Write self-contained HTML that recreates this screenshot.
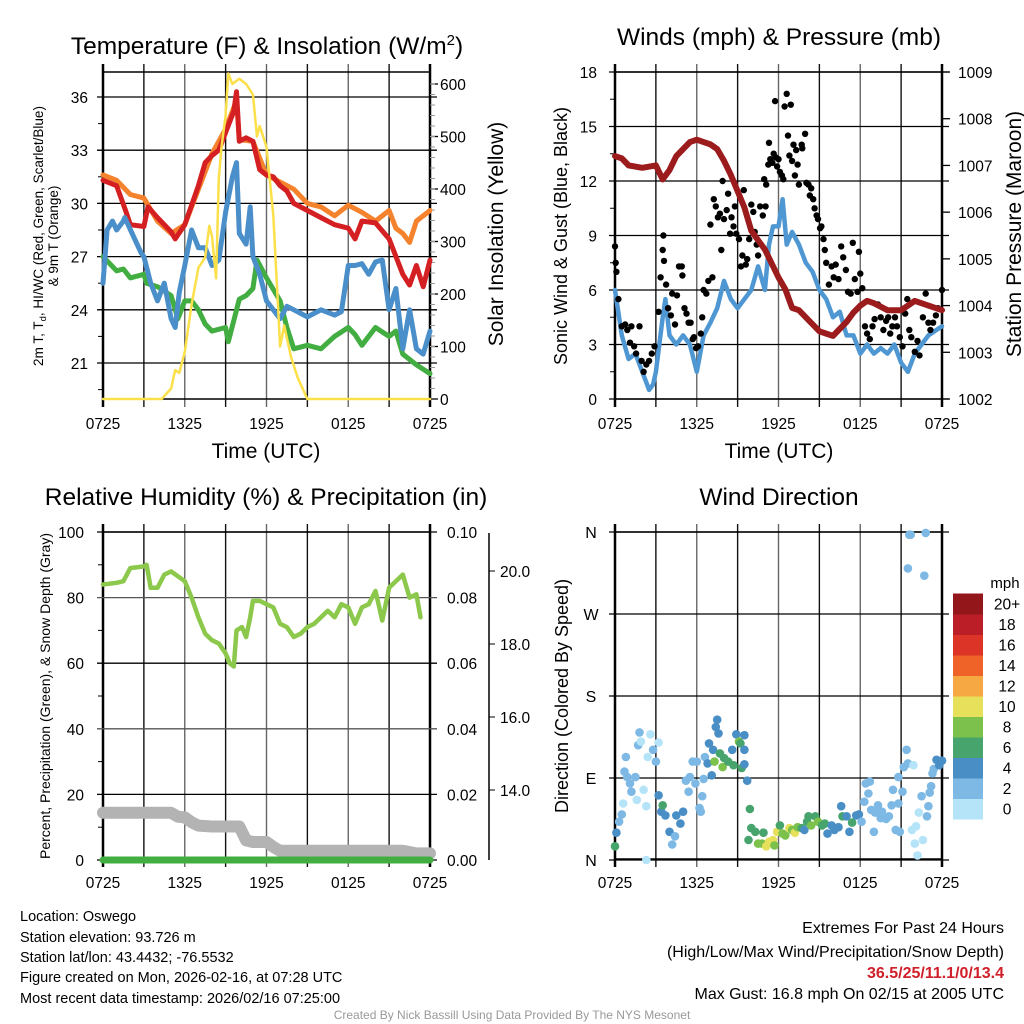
<!DOCTYPE html>
<html><head><meta charset="utf-8"><title>Oswego Meteogram</title>
<style>
html,body{margin:0;padding:0;background:#fff;}
svg{display:block;font-family:"Liberation Sans",sans-serif;}
</style></head>
<body>
<svg id="chart" width="1024" height="1024" viewBox="0 0 1024 1024" xmlns="http://www.w3.org/2000/svg">
<rect x="0" y="0" width="1024" height="1024" fill="#fff"/>
<g id="layer"></g>
<text x="267" y="54" font-size="24.5" text-anchor="middle">Temperature (F) &amp; Insolation (W/m<tspan dy="-9" font-size="15">2</tspan><tspan dy="9">)</tspan></text>
<text x="779" y="45" font-size="24.5" text-anchor="middle">Winds (mph) &amp; Pressure (mb)</text>
<text x="266" y="505" font-size="24.5" text-anchor="middle">Relative Humidity (%) &amp; Precipitation (in)</text>
<text x="779" y="505" font-size="24.5" text-anchor="middle">Wind Direction</text>

<text x="266" y="458" font-size="21" text-anchor="middle">Time (UTC)</text>
<text x="779" y="458" font-size="21" text-anchor="middle">Time (UTC)</text>

<text transform="translate(43,236) rotate(-90)" font-size="13.5" text-anchor="middle">2m T, T<tspan font-size="9.5" dy="3">d</tspan><tspan dy="-3">, HI/WC (Red, Green, Scarlet/Blue)</tspan></text>
<text transform="translate(58,236) rotate(-90)" font-size="13.5" text-anchor="middle">&amp; 9m T (Orange)</text>
<text transform="translate(503,234) rotate(-90)" font-size="21" text-anchor="middle">Solar Insolation (Yellow)</text>
<text transform="translate(567,236) rotate(-90)" font-size="18" text-anchor="middle">Sonic Wind &amp; Gust (Blue, Black)</text>
<text transform="translate(1021,234) rotate(-90)" font-size="21" text-anchor="middle">Station Pressure (Maroon)</text>
<text transform="translate(50,696) rotate(-90)" font-size="14" text-anchor="middle">Percent, Precipitation (Green), &amp; Snow Depth (Gray)</text>
<text transform="translate(568,696) rotate(-90)" font-size="18" text-anchor="middle">Direction (Colored By Speed)</text>

<g font-size="14.5">
<text x="20" y="921">Location: Oswego</text>
<text x="20" y="942">Station elevation: 93.726 m</text>
<text x="20" y="962">Station lat/lon: 43.4432; -76.5532</text>
<text x="20" y="982">Figure created on Mon, 2026-02-16, at 07:28 UTC</text>
<text x="20" y="1003">Most recent data timestamp: 2026/02/16 07:25:00</text>
</g>
<g font-size="16" text-anchor="end">
<text x="1004" y="933">Extremes For Past 24 Hours</text>
<text x="1004" y="957">(High/Low/Max Wind/Precipitation/Snow Depth)</text>
<text x="1004" y="978" font-weight="bold" fill="#d0202a">36.5/25/11.1/0/13.4</text>
<text x="1004" y="999">Max Gust: 16.8 mph On 02/15 at 2005 UTC</text>
</g>
<text x="512" y="1019" font-size="12" fill="#999" text-anchor="middle">Created By Nick Bassill Using Data Provided By The NYS Mesonet</text>
</svg>
<script>
// ---------- data ----------
const xTickLabels = ["0725","1325","1925","0125","0725"];
// Temperature panel (hours since 07:25 UTC)
const tempRedHours = [0,1,1.7,2,3,3.3,4,5,5.3,6,7,7.5,8,8.5,9,9.3,9.6,9.8,10,10.5,11,11.5,12,12.5,13,13.5,14,15,16,17,18,18.5,19,20,21,22,22.5,23,23.5,24];
const tempRedValues = [31.3,31,29.5,28.8,28.7,29.8,29.2,28.4,28.0,28.8,31,32.3,32.7,33,34,34.6,35.2,36.3,33.5,33.7,33.5,31.9,31.6,31.5,31.0,30.7,30.0,29.6,29.2,28.8,28.6,28.0,29,28.9,28.0,26.0,25.4,26.5,25.3,26.8];
const tempOrangeHours = [0,1,2,3,4,5,6,7,8,9,9.8,10,11,12,13,14,15,16,17,18,19,20,21,21.5,22,22.5,23,24];
const tempOrangeValues = [31.6,31.3,30.5,30.3,29.0,28.3,28.8,30.8,32.8,34.2,35.8,33.6,33.5,31.6,31.2,30.8,30.0,29.8,29.3,29.9,29.5,29.0,29.6,28.6,28.3,27.8,29.0,29.6];
const tempBlueHours = [0,0.3,0.7,1,1.5,1.6,2.8,3,3.5,4,4.5,5,5.3,5.6,6,6.5,7,7.5,8,8.5,9,9.5,9.8,10,10.5,10.8,11,11.5,12,12.5,13,13.5,14,15,16,17,17.5,18,18.5,19,19.5,20,20.5,21,21.5,22,22.5,23,23.5,24];
const tempBlueValues = [25.5,28.5,29,28.5,29,29.2,27.2,27,25.5,24.5,25.5,23.5,23.0,25,26.5,28.5,27.5,27.5,26.5,26.8,29.5,31.5,32.3,28.3,27.7,29.8,27,26,24.5,24,23.5,24.2,24.0,23.6,24,23.7,23.9,26.5,26.5,26.6,26.0,26.7,26.8,24,25.2,21.8,24,21.8,21.5,22.8];
const tempGreenHours = [0,1,1.5,2,3,3.2,4,5,5.5,6,6.5,7,7.5,8,9,9.2,10,10.5,11,11.3,12,13,13.5,14,15,16,17,18,18.5,19,20,21,21.5,22,23,24];
const tempGreenValues = [27,26.2,26.3,25.8,26,25.5,25.3,24.8,23.5,24.5,24.5,24,23.2,22.8,23,22.2,24.6,24.8,25.2,26.8,25.8,24.5,23.0,21.8,22.0,21.8,22.5,23.0,22.6,22.0,23.0,22.5,22.8,21.5,20.9,20.4];
const solarHours = [0,4.3,5,5.3,5.6,6,6.5,7,7.5,7.8,8,8.3,8.5,8.7,9,9.2,9.5,10,10.5,11,11.3,11.5,12,12.5,13,13.3,13.8,14.3,15,24];
const solarValues = [0,0,20,55,50,90,180,250,270,330,310,230,420,480,540,620,600,610,600,580,500,520,480,350,100,140,80,40,0,0];
const tempTicks = [21,24,27,30,33,36];
const solarTicks = [0,100,200,300,400,500,600];
// Wind panel
const windHours = [0,0.3,0.5,1,1.5,2,2.5,2.8,3,3.5,3.7,4,4.5,5,5.5,6,6.5,7,7.5,8,8.5,9,9.5,10,10.5,11,11.3,11.6,12,12.3,12.6,13,13.5,14,14.5,15,15.5,16,16.5,17,17.5,18,18.5,19,19.5,20,20.5,21,21.5,22,22.5,23,24];
const windValues = [6,4.5,3.5,2.2,2.5,1.5,0.5,0.8,1.5,4.5,5.5,3.5,3.0,3.5,3.0,1.5,3.5,4.2,5.0,6.5,5.5,5.0,5.5,6.0,7.3,6.0,8.5,9.5,9.5,11,8.5,9.2,8.5,7.5,7.0,6.0,5.5,4.5,4.8,3.5,3.5,2.5,3.0,2.5,2.8,2.5,3.0,2.0,1.5,2.5,3.0,3.5,4.0];
const gustHours = [0,0.05,0.1,0.25,0.5,0.75,0.9,1.1,1.2,1.4,1.55,1.8,1.95,2.1,2.3,2.5,2.7,2.9,3.2,3.35,3.5,3.55,3.6,3.75,3.9,4.1,4.2,4.4,4.55,4.7,4.9,4.95,5.1,5.25,5.4,5.55,5.7,5.8,5.95,6.1,6.3,6.4,6.5,6.7,6.85,7.0,7.15,7.25,7.4,7.55,7.7,7.8,7.9,8.0,8.2,8.3,8.45,8.55,8.7,8.8,8.9,9.1,9.25,9.35,9.45,9.6,9.7,9.85,10.0,10.15,10.25,10.4,10.5,10.65,10.85,10.95,11.05,11.1,11.25,11.3,11.4,11.55,11.65,11.75,11.8,11.9,12.0,12.1,12.25,12.35,12.45,12.6,12.7,12.8,12.9,13.0,13.1,13.2,13.3,13.4,13.5,13.7,13.75,13.95,14.05,14.2,14.3,14.4,14.55,14.65,14.8,14.9,15.05,15.15,15.3,15.4,15.5,15.7,15.9,16.05,16.2,16.4,16.6,16.75,16.95,17.1,17.3,17.45,17.6,17.8,17.9,18.0,18.15,18.35,18.5,18.7,18.9,19.05,19.3,19.5,19.7,19.9,20.05,20.2,20.35,20.55,20.7,20.9,21.1,21.3,21.45,21.6,21.75,22.0,22.2,22.35,22.6,22.8,23.0,23.15,23.35,23.55,23.7,24.0];
const gustValues = [8.4,7.5,7.0,5.5,4.0,4.1,3.8,3.1,4.0,2.9,2.5,4.0,2.1,1.5,1.9,2.1,2.5,2.9,4.8,6.7,8.2,9.0,7.6,6.3,5.0,4.6,5.8,4.1,5.7,7.3,7.3,6.8,5.0,4.7,4.2,4.2,3.3,3.4,2.8,2.9,3.6,4.5,6.0,5.8,6.5,9.6,6.7,11.0,10.6,10.0,10.2,8.2,12.0,9.9,10.4,11.3,9.1,10.0,9.5,10.6,9.1,8.8,7.3,7.9,11.5,7.4,7.7,8.8,10.7,10.3,9.2,8.5,7.9,10.6,10.1,12.1,10.6,11.8,12.9,14.1,13.2,13.0,13.5,16.4,13.3,12.8,13.2,12.5,12.3,12.1,16.1,16.8,14.5,13.4,16.2,13.1,14.0,12.3,13.7,12.9,11.8,14.0,13.8,14.6,11.9,11.8,11.2,11.6,11.0,10.5,10.1,9.9,9.4,9.5,8.8,8.2,7.5,6.3,7.3,6.7,7.4,6.6,8.4,7.8,7.1,5.9,5.8,8.6,6.6,5.9,8.1,6.9,6.1,4.0,3.6,3.3,4.0,4.4,5.2,4.5,3.8,4.3,4.5,3.6,4.0,4.5,4.0,3.4,2.9,4.7,5.5,3.8,3.4,2.6,3.2,2.4,4.5,5.8,4.2,3.8,4.2,4.6,5.0,6.0];
const pressureHours = [0,0.5,1,2,3,3.5,4,4.5,5,5.5,6,6.5,7,7.5,8,8.5,9,9.5,10,10.5,11,11.5,12,12.5,13,13.5,14,14.5,15,15.5,16,16.5,17,17.5,18,18.5,19,20,20.5,21,21.5,22,23,24];
const pressureValues = [1007.2,1007.15,1007.0,1006.95,1007.0,1006.7,1006.9,1007.2,1007.35,1007.5,1007.55,1007.5,1007.45,1007.35,1007.1,1006.8,1006.45,1006.1,1005.6,1005.4,1005.2,1004.9,1004.6,1004.35,1003.95,1003.9,1003.75,1003.6,1003.45,1003.4,1003.35,1003.5,1003.65,1003.85,1004.0,1004.1,1004.05,1003.9,1003.9,1003.9,1004.0,1004.1,1004.0,1003.9];
const windTicks = [0,3,6,9,12,15,18];
const pressureTicks = [1002,1003,1004,1005,1006,1007,1008,1009];
// Humidity panel
const rhHours = [0,1,1.5,2,3,3.2,3.5,4,4.5,5,6,6.5,7,7.5,8,8.5,9,9.3,9.6,9.8,10.2,10.5,10.8,11,11.5,12,12.5,13,13.5,14,14.5,15,15.5,16,16.5,17,17.5,18,18.5,19,19.5,20,20.5,21,22,22.5,23,23.3];
const rhValues = [84,84.5,85,89,89.5,90,83,83,87,88,85,80,74,69,67,66,63,60,59,70,71,68,74,79,79,78,77,72,71,68,69,71,72,74,76,74,78,77,72,77,78,82,73,83,87,80,81,74];
const snowHours = [0,5,5.5,6,6.5,7,8,10,10.5,11,12,12.5,13,22,23,24];
const snowValues = [14.4,14.4,13.2,13,11.5,10.5,10.2,10.2,6,5.5,5.5,4,2.8,2.8,2,2];
const precipHours = [0,24];
const precipValues = [0,0];
const rhTicks = [0,20,40,60,80,100];
const precipTicks = ["0.00","0.02","0.04","0.06","0.08","0.10"];
const snowTicks = [14,16,18,20];
// Wind direction panel
const dirHours = [0,0.1,0.3,0.5,0.6,0.7,0.8,0.9,1.1,1.2,1.5,1.6,1.7,1.8,1.9,2.1,2.3,2.3,2.4,2.6,2.8,3.0,3.2,3.2,3.4,3.5,3.7,4.0,4.2,4.4,4.5,4.8,5.0,5.2,5.4,5.5,5.7,5.9,6.0,6.2,6.3,6.4,6.5,6.6,6.8,6.9,7.1,7.2,7.3,7.4,7.5,7.6,7.7,7.9,8.0,8.3,8.6,8.7,8.9,9.1,9.2,9.3,9.5,9.5,9.5,9.7,9.9,9.8,10.0,10.3,10.5,10.8,10.9,11.1,11.3,11.6,11.7,11.9,12.1,12.3,12.5,12.8,13.0,13.2,13.4,13.7,13.9,14.1,14.2,14.4,14.7,14.9,15.2,15.4,15.6,15.9,16.1,16.4,16.6,16.7,17.0,17.2,17.4,17.7,17.9,18.1,18.3,18.4,18.6,18.7,18.8,19.0,19.1,19.3,19.5,19.6,19.9,20.1,20.3,20.4,20.6,20.8,20.9,21.1,20.8,21.2,21.4,21.5,21.6,21.5,21.7,21.8,21.9,22.0,22.1,22.2,22.3,22.5,22.6,22.7,22.8,22.9,23.0,23.1,23.2,23.3,23.4,23.6,23.8,24];
const dirValues = [15,30,42,50,62,97,113,91,84,75,91,66,126,140,130,77,59,0,113,138,121,108,129,71,53,60,49,31,17,26,49,40,53,87,75,91,108,84,108,57,53,70,89,113,106,128,93,121,108,146,154,139,117,102,112,108,121,104,138,130,128,101,121,137,105,87,56,22,35,31,18,18,30,15,20,22,16,31,38,29,27,35,33,30,36,35,33,42,48,38,48,42,38,40,29,38,33,36,59,48,48,31,41,49,50,42,64,84,73,86,55,31,52,60,46,53,45,48,60,77,33,62,31,75,91,102,121,106,357,320,357,33,104,18,37,5,52,70,22,312,359,48,59,74,81,95,100,110,104,109];
const dirSpeeds = [6,4,2,2,0,2,2,2,2,2,2,0,2,2,0,0,0,0,0,0,2,2,0,4,4,6,4,4,2,2,4,4,4,2,2,2,2,2,2,2,2,2,2,2,4,4,4,4,8,4,4,4,6,8,6,6,4,6,4,8,6,6,4,4,4,4,6,6,6,6,8,8,6,10,10,10,8,10,6,8,8,10,8,10,8,6,4,6,6,8,6,8,6,6,4,4,4,4,4,6,4,4,6,4,4,2,2,2,2,2,2,2,2,2,2,2,2,2,2,2,2,2,2,2,2,2,2,2,2,2,2,0,0,0,0,0,0,2,0,2,2,2,2,2,2,2,2,4,4,4];
const dirTickLabels = ["N","E","S","W","N"];
const speedBinLabels = ["0","2","4","6","8","10","12","14","16","18","20+"];
const speedBinColors = ["#b5e3f8","#7db9e4","#4a8ec6","#48a46d","#7cc14b","#e6e05b","#f6a943","#ef6228","#dc3427","#bb1e26","#92161a"];

// ---------- helpers ----------
const NS = "http://www.w3.org/2000/svg";
const layer = document.getElementById("layer");
function mk(tag, attrs, parent){
  const e = document.createElementNS(NS, tag);
  for (const k in attrs) e.setAttribute(k, attrs[k]);
  (parent||layer).appendChild(e);
  return e;
}
function pathD(hs, vs, fx, fy){
  let d = "";
  for (let i=0;i<hs.length;i++){ d += (i?"L":"M") + fx(hs[i]).toFixed(1) + "," + fy(vs[i]).toFixed(1); }
  return d;
}
function xScale(x0){ return h => x0 + h*(327/24); }

function frame(x0, y0, name){
  const g = mk("g", {});
  
  
  for (let i=0;i<=8;i++){
    const x = x0 + i*327/8;
    const ln = mk("line", {x1:x, y1:y0-8, x2:x, y2:y0+335, stroke:(i%2? "#111":"#666"), "stroke-width":1.4}, g);
    
    
  }
  const r = mk("rect", {x:x0, y:y0, width:327, height:327, fill:"none", stroke:"#000", "stroke-width":1.5}, g);
  
  
  const L = mk("line", {x1:x0, y1:y0-8, x2:x0, y2:y0+335, stroke:"#000", "stroke-width":2.5}, g);
  
  
  const R = mk("line", {x1:x0+327, y1:y0-8, x2:x0+327, y2:y0+335, stroke:"#000", "stroke-width":2.5}, g);
  
  
  const fx = xScale(x0);
  xTickLabels.forEach((lab,i)=>{
    const t = mk("text", {x:fx(i*6), y:y0+357+(y0>400?-1:0), "font-size":15.5, "text-anchor":"middle"}, g);
    t.textContent = lab;
    
    
  });
  return g;
}
function hgrid(x0, y, name, color){
  const l = mk("line", {x1:x0-6, y1:y, x2:x0+334, y2:y, stroke:color||"#000", "stroke-width":1.3});
  
  
}
function label(x, y, txt, anchor, size, name){
  const t = mk("text", {x:x, y:y, "font-size":size||15.5, "text-anchor":anchor||"end"});
  t.textContent = txt;
  
  
  return t;
}
function series(d, color, w, name){
  const p = mk("path", {d:d, fill:"none", stroke:color, "stroke-width":w, "stroke-linejoin":"round", "stroke-linecap":"round"});
  
  
  return p;
}

// ---------- Panel 1: temperature ----------
(function(){
  const x0=103, y0=72;
  const fx = xScale(x0);
  const fy = v => 363 - (v-21)*(266/15);
  const fs = w => 399 - w*(315/600);
  frame(x0,y0,"temperature");
  tempTicks.forEach(v=>{ hgrid(x0, fy(v), "temperature-y-gridline"); label(88, fy(v)+6, String(v), "end", 15.5, "temperature-y-tick-label"); });
  for (let v=19.5; v<37.4; v+=1.5){ const t=mk("line",{x1:x0-5,y1:fy(v),x2:x0,y2:fy(v),stroke:"#000"});   }
  solarTicks.forEach(v=>{ const t=mk("line",{x1:x0+327,y1:fs(v),x2:x0+335,y2:fs(v),stroke:"#000","stroke-width":1.3});   label(440, fs(v)+6, String(v), "start", 15.5, "solar-y-tick-label"); });
  for (let v=20; v<620; v+=20){ const t=mk("line",{x1:x0+327,y1:fs(v),x2:x0+332,y2:fs(v),stroke:"#999"});   }
  series(pathD(tempOrangeHours,tempOrangeValues,fx,fy), "#f5822c", 5, "nine-meter-temperature-line");
  series(pathD(tempRedHours,tempRedValues,fx,fy), "#d42023", 5, "two-meter-temperature-line");
  series(pathD(tempGreenHours,tempGreenValues,fx,fy), "#42ad40", 5, "dewpoint-line");
  series(pathD(tempBlueHours,tempBlueValues,fx,fy), "#4a8fc9", 5, "wind-chill-line");
  series(pathD(solarHours,solarValues,fx,fs), "#fbe04a", 2.5, "solar-insolation-line");
})();

// ---------- Panel 2: winds ----------
(function(){
  const x0=615, y0=72;
  const fx = xScale(x0);
  const fy = v => 399 - v*(327/18);
  const fp = p => 399 - (p-1002)*(327/7);
  frame(x0,y0,"wind");
  windTicks.forEach(v=>{ hgrid(x0, fy(v), "wind-y-gridline"); label(597, fy(v)+6, String(v), "end", 15.5, "wind-y-tick-label"); });
  for (let v=1.5; v<18; v+=3){ const t=mk("line",{x1:x0-5,y1:fy(v),x2:x0,y2:fy(v),stroke:"#000"});   }
  pressureTicks.forEach(v=>{ const t=mk("line",{x1:x0+327,y1:fp(v),x2:x0+335,y2:fp(v),stroke:"#000","stroke-width":1.3});   label(958, fp(v)+6, String(v), "start", 15.5, "pressure-y-tick-label"); });
  series(pathD(windHours,windValues,fx,fy), "#4f97d2", 4.5, "sonic-wind-line");
  gustHours.forEach((h,i)=>{
    const c = mk("circle",{cx:fx(h).toFixed(1), cy:fy(gustValues[i]).toFixed(1), r:3.2, fill:"#000"});
    
    
  });
  series(pathD(pressureHours,pressureValues,fx,fp), "#9c1b1d", 6, "station-pressure-line");
})();

// ---------- Panel 3: humidity ----------
(function(){
  const x0=103, y0=532;
  const fx = xScale(x0);
  const fy = v => 860 - v*3.28;
  const fpr = v => 860 - v*3280;
  const fsn = v => 571 + (20-v)*36.5;
  frame(x0,y0,"humidity");
  rhTicks.forEach((v,i)=>{ hgrid(x0, fy(v), "humidity-y-gridline", (v===80||v===40)?"#555":"#000"); label(84, fy(v)+6, String(v), "end", 15.5, "humidity-y-tick-label"); label(447, fy(v)+6, precipTicks[i], "start", 15.5, "precip-y-tick-label"); });
  for (let v=10; v<100; v+=20){ const t=mk("line",{x1:x0-5,y1:fy(v),x2:x0,y2:fy(v),stroke:"#000"});   }
  const ax = mk("line",{x1:489,y1:533,x2:489,y2:860,stroke:"#000","stroke-width":1.5});
   
  snowTicks.forEach(v=>{ const t=mk("line",{x1:489,y1:fsn(v),x2:495,y2:fsn(v),stroke:"#000"});   label(500, fsn(v)+6, v.toFixed(1), "start", 15.5, "snow-depth-tick-label"); });
  series(pathD(snowHours,snowValues,fx,fy), "#b3b3b3", 12, "snow-depth-line");
  series(pathD(precipHours,precipValues,fx,fpr), "#42ad40", 7, "precipitation-line");
  series(pathD(rhHours,rhValues,fx,fy), "#8cc84b", 4.5, "relative-humidity-line");
})();

// ---------- Panel 4: wind direction ----------
(function(){
  const x0=615, y0=532;
  const fx = xScale(x0);
  const fy = d => 860 - d*(328/360);
  frame(x0,y0,"direction");
  dirTickLabels.forEach((lab,i)=>{ hgrid(x0, fy(i*90), "direction-y-gridline"); label(591, fy(i*90)+6, lab, "middle", 16, "direction-y-tick-label"); });
  dirHours.forEach((h,i)=>{
    const bin = Math.min(10, Math.floor(dirSpeeds[i]/2));
    const c = mk("circle",{cx:fx(h).toFixed(1), cy:fy(dirValues[i]).toFixed(1), r:4.3, fill:speedBinColors[bin]});
    
    
  });
  label(1005, 588, "mph", "middle", 15, "colorbar-title");
  speedBinLabels.forEach((lab,i)=>{
    const yTop = 819 - (i+1)*20.5;
    const r = mk("rect",{x:953, y:yTop.toFixed(1), width:30, height:21, fill:speedBinColors[i]});
    
    
    label(1007, yTop+16, lab, "middle", 15.5, "colorbar-label");
  });
})();
</script>
</body></html>
